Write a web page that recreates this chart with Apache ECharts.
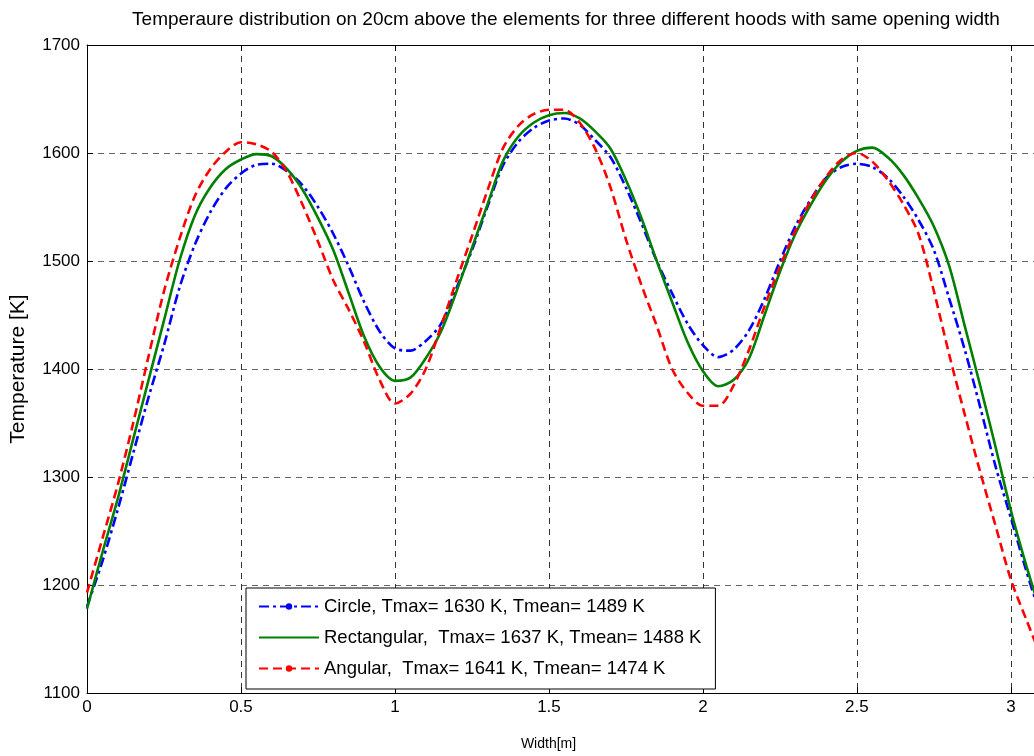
<!DOCTYPE html>
<html>
<head>
<meta charset="utf-8">
<script src="https://cdn.jsdelivr.net/npm/echarts@6/dist/echarts.min.js"></script>
<style>html,body{margin:0;padding:0;background:#fff;}#c{width:1034px;height:756px;}</style>
</head>
<body>
<div id="c"></div>
<script>
// x positions (m)
const widthX = [0.00,0.05,0.10,0.15,0.20,0.25,0.30,0.35,0.40,0.45,0.50,0.55,0.60,0.65,0.70,0.75,0.80,0.85,0.90,0.95,
  1.00,1.05,1.10,1.15,1.20,1.25,1.30,1.35,1.40,1.45,1.50,1.55,1.60,1.65,1.70,1.75,1.80,1.85,1.90,1.95,
  2.00,2.05,2.10,2.15,2.20,2.25,2.30,2.35,2.40,2.45,2.50,2.55,2.60,2.65,2.70,2.75,2.80,2.85,2.90,2.95,
  3.00,3.05,3.10];
const circleT = [1180,1222,1270,1322,1374,1422,1475,1515,1545,1567,1581,1589,1590,1583,1570,1550,1525,1495,1462,1435,
  1419,1417,1426,1442,1475,1510,1550,1588,1610,1623,1630,1632,1626,1612,1596,1568,1535,1500,1470,1442,
  1422,1411,1418,1436,1465,1500,1532,1557,1577,1587,1590,1587,1577,1560,1538,1510,1465,1418,1365,1310,
  1262,1213,1168];
const rectT = [1178,1230,1280,1335,1390,1445,1500,1542,1568,1585,1594,1599,1597,1585,1566,1540,1510,1470,1430,1402,
  1389,1392,1410,1435,1472,1512,1552,1592,1615,1628,1635,1637,1632,1620,1604,1575,1540,1500,1462,1425,
  1398,1384,1390,1410,1450,1490,1525,1552,1575,1592,1602,1605,1596,1580,1558,1532,1495,1440,1385,1328,
  1269,1218,1172];
const angT = [1193,1243,1293,1350,1412,1472,1520,1560,1585,1601,1610,1608,1601,1582,1552,1518,1482,1455,1425,1390,
  1368,1377,1400,1440,1482,1523,1565,1604,1625,1636,1640,1640,1628,1604,1568,1520,1478,1440,1400,1378,
  1366,1366,1385,1418,1458,1495,1528,1556,1578,1594,1600,1592,1575,1553,1525,1472,1413,1358,1305,1255,
  1205,1168,1132];
const seriesNames = [
  'Circle, Tmax= 1630 K, Tmean= 1489 K',
  'Rectangular,  Tmax= 1637 K, Tmean= 1488 K',
  'Angular,  Tmax= 1641 K, Tmean= 1474 K'
];
const titleText = 'Temperaure distribution on 20cm above the elements for three different hoods with same opening width';

const pair = (ys) => widthX.map((x, i) => [x, ys[i]]);
const FONT = 'Liberation Sans, Arial, sans-serif';
const XMAX = 3.075;

const chart = echarts.init(document.getElementById('c'), null, {renderer: 'canvas'});
chart.setOption({
  animation: false,
  backgroundColor: '#fff',
  title: {
    text: titleText,
    left: 561, top: 5, textAlign: 'center',
    textStyle: {fontFamily: FONT, fontSize: 19, fontWeight: 'normal', color: '#000'}
  },
  grid: {
    left: 87, top: 45, right: 0, bottom: 61, show: false
  },
  xAxis: [{
    type: 'value', min: 0, max: XMAX, interval: 0.5,
    name: 'Width[m]', nameLocation: 'middle', nameGap: 44,
    nameTextStyle: {fontFamily: FONT, fontSize: 14, color: '#000', padding: [0, 24, 0, 0]},
    axisLine: {show: true, onZero: false, lineStyle: {color: '#000', width: 1}},
    axisTick: {show: true, inside: true, length: 6, lineStyle: {color: '#000'}},
    axisLabel: {fontFamily: FONT, fontSize: 17, color: '#000', margin: 6, showMaxLabel: false,
      formatter: v => String(v)},
    splitLine: {show: true, lineStyle: {color: '#333', type: [6, 5], width: 1}}
  }, {
    type: 'value', min: 0, max: XMAX, interval: 0.5, position: 'top',
    axisLine: {show: true, onZero: false, lineStyle: {color: '#000', width: 1}},
    axisTick: {show: true, inside: true, length: 6, lineStyle: {color: '#000'}},
    axisLabel: {show: false},
    splitLine: {show: false}
  }],
  yAxis: {
    type: 'value', min: 1100, max: 1700, interval: 100,
    name: 'Temperature [K]', nameLocation: 'middle', nameGap: 58,
    nameTextStyle: {fontFamily: FONT, fontSize: 21, color: '#000'},
    axisLine: {show: true, lineStyle: {color: '#000', width: 1}},
    axisTick: {show: true, inside: true, length: 6, lineStyle: {color: '#000'}},
    axisLabel: {fontFamily: FONT, fontSize: 17, color: '#000', margin: 7, formatter: v => String(v)},
    splitLine: {show: true, lineStyle: {color: '#666', type: [6, 5], width: 1}}
  },
  legend: {
    orient: 'vertical', left: 246, top: 588,
    data: [seriesNames[0], {name: seriesNames[1], itemStyle: {opacity: 0}}, seriesNames[2]],
    itemWidth: 60, itemHeight: 8, itemGap: 12,
    padding: [9, 14, 11, 12],
    borderColor: '#000', borderWidth: 1, backgroundColor: '#fff', borderRadius: 0,
    textStyle: {fontFamily: FONT, fontSize: 18.5, color: '#000'}
  },
  series: [
    {
      name: seriesNames[0], type: 'line', data: pair(circleT),
      symbol: 'circle', symbolSize: 6, showSymbol: false, smooth: 0.3,
      itemStyle: {color: '#0000ff'},
      lineStyle: {color: '#0000ff', width: 2.6, type: [10, 4, 3, 4]}
    },
    {
      name: seriesNames[1], type: 'line', data: pair(rectT),
      symbol: 'none', showSymbol: false, smooth: 0.3,
      itemStyle: {color: '#008000'},
      lineStyle: {color: '#008000', width: 2.6, type: 'solid'}
    },
    {
      name: seriesNames[2], type: 'line', data: pair(angT),
      symbol: 'circle', symbolSize: 6, showSymbol: false, smooth: 0.3,
      itemStyle: {color: '#ff0000'},
      lineStyle: {color: '#ff0000', width: 2.6, type: [9, 5]}
    }
  ]
});
</script>
</body>
</html>
